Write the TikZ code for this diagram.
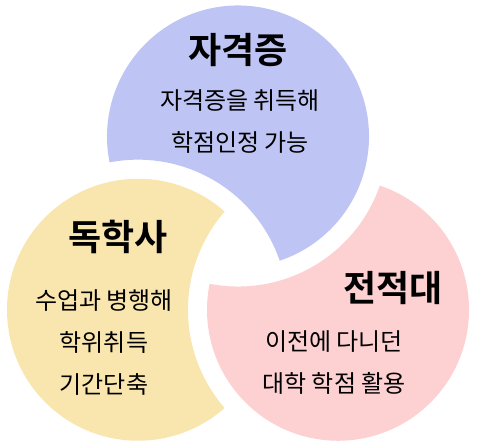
\documentclass[tikz,border=0pt]{standalone}
\usepackage{fontspec}
\newfontfamily\krfont{Noto Sans CJK KR}
\newfontfamily\krbold{Noto Sans CJK KR Bold}
\usetikzlibrary{calc}
\definecolor{credblue}{HTML}{BEC4F3}
\definecolor{credyellow}{HTML}{F9E5AE}
\definecolor{credpink}{HTML}{FDD0D2}

\begin{document}
\begin{tikzpicture}[x=1pt,y=1pt]
  \useasboundingbox (0,0) rectangle (490,442);
  \coordinate (mid) at (238,190);
  % three discs, each bitten by the next one
  \foreach \ang/\col in {90/credblue,210/credyellow,330/credpink}{
    \fill[\col] ($(mid)+(\ang:115.5)+(\ang-161.4:131)$)
      arc[start angle=\ang-161.4,end angle=\ang+101.4,radius=131pt]
      arc[start angle=\ang+10.9,end angle=\ang-70.9,radius=150pt] -- cycle;
  }
  \tikzset{title/.style={font=\krbold\fontsize{36}{40}\selectfont},
           body/.style={font=\krfont\fontsize{24}{42}\selectfont,align=center}}
  \node[title] (cert) at (238,392){자격증};
  \node[body] (certtxt) at (240,320){자격증을 취득해\\학점인정 가능};
  \node[title] (self) at (118,205){독학사};
  \node[body] (selftxt) at (104,99){수업과 병행해\\학위취득\\기간단축};
  \node[title] (trans) at (393,154){전적대};
  \node[body] (transtxt) at (334,79){이전에 다니던\\대학 학점 활용};
\end{tikzpicture}
\end{document}
